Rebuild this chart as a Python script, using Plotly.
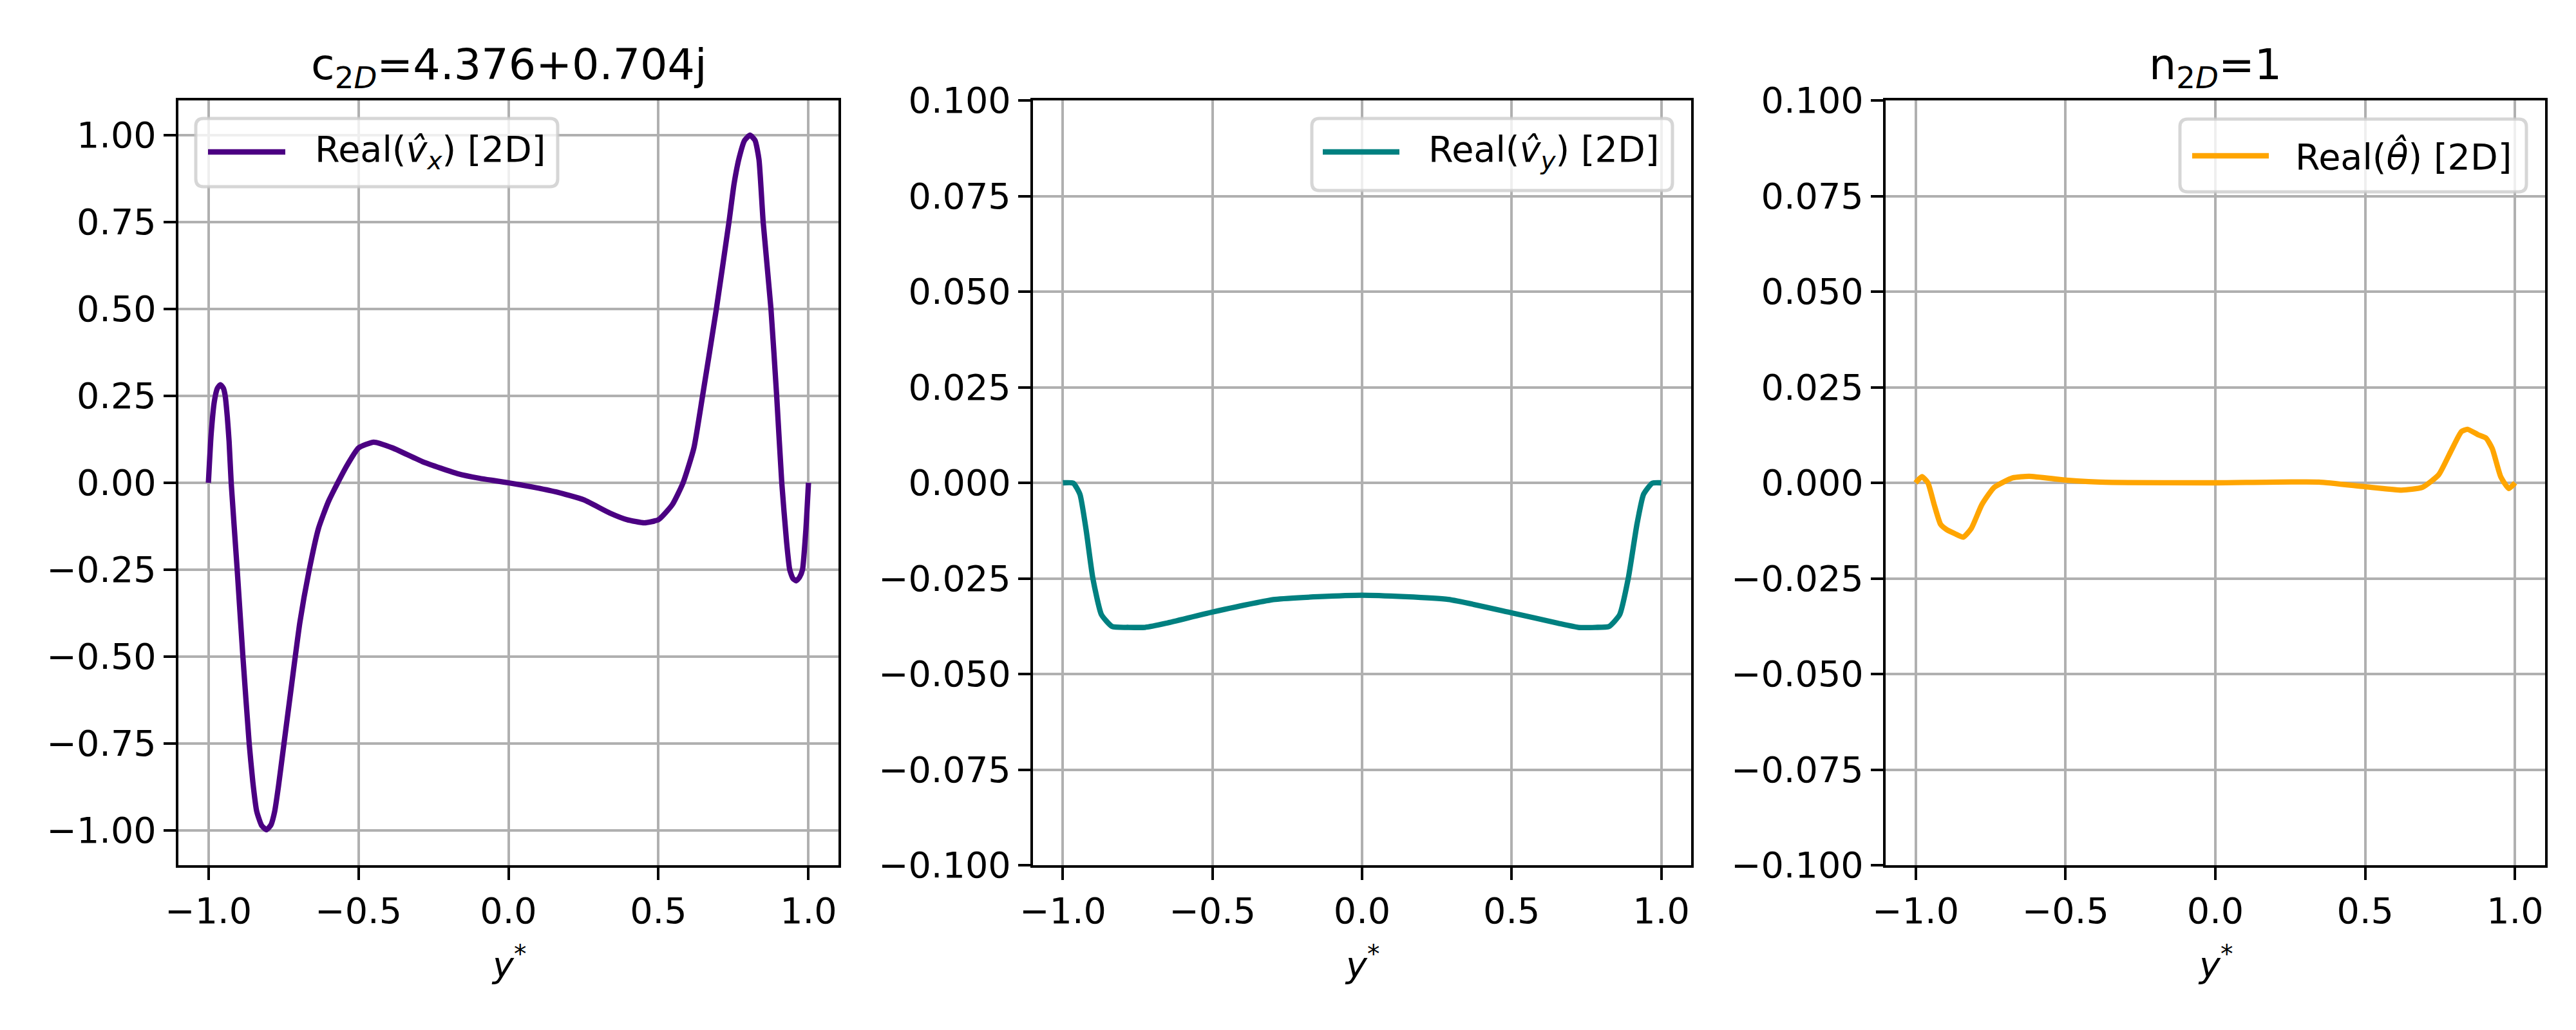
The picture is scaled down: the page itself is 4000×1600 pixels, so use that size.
import plotly.graph_objects as go
from plotly.subplots import make_subplots

# mode shapes
y_vx = [-1.0, -0.991, -0.98, -0.97, -0.96, -0.95, -0.944, -0.937, -0.931, -0.924,
        -0.904, -0.885, -0.864, -0.852, -0.839, -0.823, -0.807, -0.792, -0.779, -0.766,
        -0.751, -0.724, -0.695, -0.665, -0.633, -0.601, -0.569, -0.536, -0.5, -0.449,
        -0.385, -0.284, -0.168, -0.096, 0.0, 0.08, 0.158, 0.251, 0.338, 0.395,
        0.453, 0.5, 0.546, 0.582, 0.618, 0.647, 0.693, 0.735, 0.752, 0.769,
        0.787, 0.805, 0.822, 0.835, 0.849, 0.875, 0.894, 0.911, 0.927, 0.9375,
        0.948, 0.959, 0.97, 0.98, 0.991, 1.0]
vx = [0.0, 0.138, 0.235, 0.272, 0.282, 0.272, 0.25, 0.19, 0.119, 0.0,
      -0.25, -0.5, -0.75, -0.86, -0.945, -0.985, -0.998, -0.985, -0.945, -0.87,
      -0.77, -0.59, -0.401, -0.255, -0.131, -0.056, 0.0, 0.053, 0.1, 0.117,
      0.1, 0.06, 0.026, 0.013, 0.0, -0.012, -0.026, -0.049, -0.087, -0.106,
      -0.115, -0.106, -0.063, 0.0, 0.1, 0.25, 0.5, 0.75, 0.86, 0.935,
      0.985, 1.0, 0.985, 0.93, 0.75, 0.5, 0.25, 0.0, -0.17, -0.25,
      -0.275, -0.282, -0.272, -0.25, -0.139, 0.0]

y_vy = [-1.0, -0.965, -0.943, -0.922, -0.9, -0.871, -0.835, -0.78, -0.726, -0.654,
        -0.5, -0.291, 0.0, 0.288, 0.5, 0.654, 0.723, 0.78, 0.825, 0.861,
        0.89, 0.919, 0.941, 0.97, 1.0]
vy = [0.0, -0.0001, -0.003, -0.0125, -0.0249, -0.0345, -0.0376, -0.0378, -0.0378, -0.0367,
      -0.0338, -0.0305, -0.0294, -0.0305, -0.034, -0.0367, -0.0378, -0.0378, -0.0376, -0.0345,
      -0.0249, -0.0108, -0.003, -0.0001, 0.0]

y_th = [-1.0, -0.979, -0.959, -0.938, -0.917, -0.897, -0.869, -0.841, -0.814, -0.779,
        -0.738, -0.676, -0.621, -0.497, -0.345, 0.0, 0.345, 0.497, 0.621, 0.69,
        0.745, 0.786, 0.821, 0.841, 0.876, 0.903, 0.924, 0.952, 0.979, 1.0]
th = [0.0, 0.0016, 0.0, -0.0057, -0.0108, -0.0122, -0.0133, -0.0142, -0.0119, -0.0057,
      -0.0012, 0.0013, 0.0017, 0.0007, 0.0001, 0.0, 0.0002, -0.001, -0.0019, -0.0012,
      0.0021, 0.0083, 0.0134, 0.014, 0.0126, 0.0117, 0.0089, 0.0016, -0.0015, 0.0]

names = ["Real(<i>v̂</i><sub><i>x</i></sub>) [2D]",
         "Real(<i>v̂</i><sub><i>y</i></sub>) [2D]",
         "Real(<i>θ̂</i>) [2D]"]
colors = ["#4B0082", "#008080", "#FFA500"]
titles = ["c<sub>2<i>D</i></sub>=4.376+0.704j", "", "n<sub>2<i>D</i></sub>=1"]

W, H = 4000, 1600
FONT = "DejaVu Sans"


def px(x):
    return x / W


def py(y):
    return 1 - y / H


# axes boxes in pixels (left, right), shared top/bottom
boxes = [(269, 1294), (1596, 2618), (2920, 3944)]
top, bottom = 148, 1336

fig = make_subplots(rows=1, cols=3)
series = [(y_vx, vx), (y_vy, vy), (y_th, th)]
for i, (xs, ys) in enumerate(series):
    fig.add_trace(go.Scatter(x=xs, y=ys, mode="lines", name=names[i],
                             line=dict(color=colors[i], width=8.3, shape="spline", smoothing=0.5),
                             showlegend=False),
                  row=1, col=i + 1)

axis_style = dict(showline=True, mirror=True, linecolor="black", linewidth=4.4,
                  ticks="outside", ticklen=19, tickwidth=4.4, tickcolor="black",
                  showgrid=True, gridcolor="#b0b0b0", gridwidth=4.4, zeroline=False,
                  automargin=False,
                  tickfont=dict(family=FONT, size=55.6, color="black"))

for i, (l, r) in enumerate(boxes):
    fig.update_xaxes(domain=[px(l), px(r)], range=[-1.1, 1.1], dtick=0.5, tick0=0,
                     tickformat=".1f", row=1, col=i + 1, **axis_style)
    if i == 0:
        fig.update_yaxes(range=[-1.1, 1.1], dtick=0.25, tick0=0, tickformat=".2f",
                         row=1, col=1, **axis_style)
    else:
        fig.update_yaxes(range=[-0.1, 0.1], dtick=0.025, tick0=0, tickformat=".3f",
                         row=1, col=i + 1, **axis_style)
    fig.update_yaxes(domain=[py(bottom), py(top)], row=1, col=i + 1)

annotations = []
shapes = []
for i, (l, r) in enumerate(boxes):
    cx = px((l + r) / 2)
    if titles[i]:
        annotations.append(dict(text=titles[i], x=cx, y=py(96), xref="paper", yref="paper",
                                xanchor="center", yanchor="middle", showarrow=False,
                                font=dict(family=FONT, size=66.7, color="black")))
    annotations.append(dict(text="<i>y</i><sup>*</sup>", x=cx, y=py(1487), xref="paper",
                            yref="paper", xanchor="center", yanchor="middle", showarrow=False,
                            font=dict(family=FONT, size=55.6, color="black")))

# legend boxes: (x0, y0, x1, y1, line x0, line x1, line y, text x)
legend_boxes = [(296, 176, 858, 282, 315, 435, 228, 479),
                (2029, 176, 2589, 288, 2046, 2165, 228, 2208),
                (3377, 177, 3915, 290, 3396, 3515, 234, 3554)]
for i, (x0, y0, x1, y1, lx0, lx1, ly, tx) in enumerate(legend_boxes):
    rr = 12
    pts = [("M", x0 + rr, y0), ("L", x1 - rr, y0), ("Q", x1, y0, x1, y0 + rr),
           ("L", x1, y1 - rr), ("Q", x1, y1, x1 - rr, y1), ("L", x0 + rr, y1),
           ("Q", x0, y1, x0, y1 - rr), ("L", x0, y0 + rr), ("Q", x0, y0, x0 + rr, y0)]
    path = ""
    for p in pts:
        cmd, coords = p[0], p[1:]
        path += cmd + " " + " ".join(
            f"{px(coords[k]):.5f},{py(coords[k + 1]):.5f}" for k in range(0, len(coords), 2)) + " "
    path += "Z"
    shapes.append(dict(type="path", path=path, xref="paper", yref="paper", layer="above",
                       fillcolor="rgba(255,255,255,0.8)",
                       line=dict(color="rgba(204,204,204,0.8)", width=5)))
    shapes.append(dict(type="line", x0=px(lx0), x1=px(lx1), y0=py(ly), y1=py(ly),
                       xref="paper", yref="paper", layer="above",
                       line=dict(color=colors[i], width=8.3)))
    annotations.append(dict(text=names[i], x=px(tx), y=py(ly), xref="paper", yref="paper",
                            xanchor="left", yanchor="middle", showarrow=False,
                            font=dict(family=FONT, size=55.6, color="black")))

fig.update_layout(width=W, height=H, margin=dict(l=0, r=0, t=0, b=0),
                  paper_bgcolor="white", plot_bgcolor="white",
                  annotations=annotations, shapes=shapes,
                  font=dict(family=FONT, color="black"))

fig.write_html("out.html")
